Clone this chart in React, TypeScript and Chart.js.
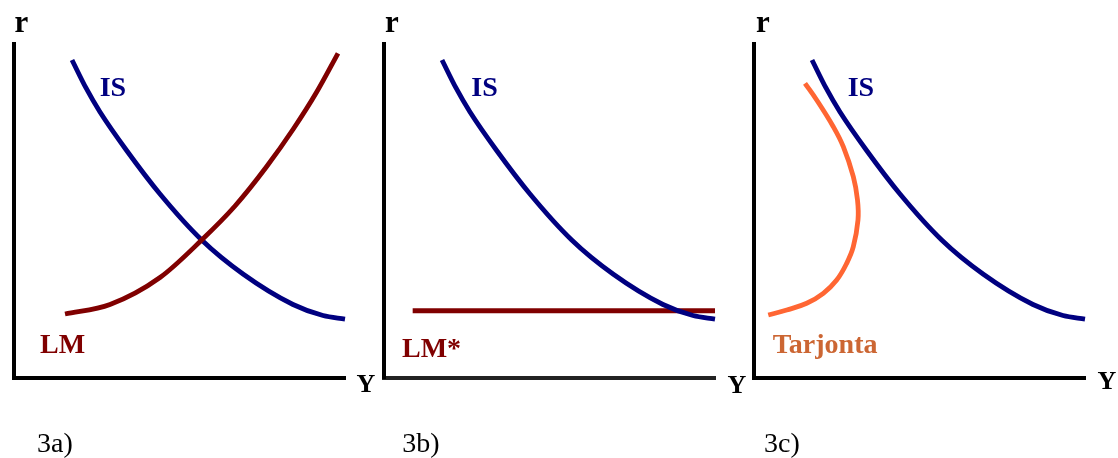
import React, { useEffect, useRef } from "react";
import { Chart, registerables } from "chart.js";

Chart.register(...registerables);

// IS curve (same shape in all three panels), abstract units 0..100
const IS_X = [17.65, 21.87, 26.09, 34.24, 44.19, 56.77, 69.23, 84.31, 93.36, 100];
const IS_R = [95.21, 86.83, 79.64, 67.96, 55.09, 41.32, 31.14, 22.01, 18.71, 17.66];
// LM curve (panel 3a)
const LM_X = [15.54, 29.11, 44.19, 56.77, 66.82, 76.38, 84.4, 91.46, 97.89];
const LM_R = [19.16, 22.01, 30.09, 41.32, 51.5, 63.32, 74.55, 85.63, 97.22];
// LM* horizontal line (panel 3b)
const LMSTAR_X = [8.8, 100];
const LMSTAR_R = [20.1, 20.1];
// Tarjonta (supply) curve (panel 3c)
const SUPPLY_X = [15.54, 19.06, 24.07, 27.09, 30.11, 31.37, 31.52, 30.11, 28.11, 25.1, 21.06, 16.05, 10.02, 4.46];
const SUPPLY_R = [88.23, 83.23, 75.24, 69.25, 60.27, 53.29, 47.31, 39.31, 34.34, 29.34, 25.36, 22.37, 20.36, 18.86];

const PANEL_NAMES = ["3a)", "3b)", "3c)"];

const W = 1118;
const H = 458;

const CURVE_FONT = 'bold 28px "Liberation Serif", "Times New Roman", serif';
const R_FONT = 'bold 31px "Liberation Serif", "Times New Roman", serif';
const Y_FONT = 'bold 26px "Liberation Serif", "Times New Roman", serif';
const NUM_FONT = '28px "Liberation Serif", "Times New Roman", serif';

const pts = (xs: number[], ys: number[]) => xs.map((x, i) => ({ x, y: ys[i] }));

const textPlugin = {
  id: "panelText",
  afterDatasetsDraw(chart: any, _args: any, opts: any) {
    const { ctx, chartArea, scales } = chart;
    ctx.save();
    for (const it of opts.items || []) {
      let px: number, py: number;
      if (it.data) {
        px = scales.x.getPixelForValue(it.x);
        py = scales.y.getPixelForValue(it.y);
      } else {
        px = (it.ax === "right" ? chartArea.right : chartArea.left) + it.dx;
        py = (it.ay === "bottom" ? chartArea.bottom : chartArea.top) + it.dy;
      }
      ctx.font = it.font;
      ctx.fillStyle = it.color;
      ctx.textAlign = "center";
      ctx.textBaseline = "alphabetic";
      ctx.fillText(it.text, px, py);
    }
    ctx.restore();
  },
};

const line = (data: any[], color: string, width: number, mono: boolean) => ({
  data,
  borderColor: color,
  backgroundColor: color,
  borderWidth: width,
  showLine: true,
  pointRadius: 0,
  pointHoverRadius: 0,
  fill: false,
  clip: false,
  borderCapStyle: "butt",
  borderJoinStyle: "round",
  ...(mono ? { cubicInterpolationMode: "monotone" } : { tension: 0.4 }),
});

const axis = (color: string) => ({
  type: "linear",
  min: 0,
  max: 100,
  display: true,
  grid: { display: false, drawTicks: false },
  ticks: { display: false },
  border: { display: true, color, width: 4 },
});

function panelConfig(idx: number) {
  const pads = [
    { left: 13.5, right: W - 345, top: 44, bottom: H - 378 },
    { left: 383.5, right: W - 715, top: 44, bottom: H - 378 },
    { left: 753.5, right: W - 1085, top: 44, bottom: H - 378 },
  ][idx];
  const IS = line(pts(IS_X, IS_R), "#000080", 4.8, true);
  let datasets: any[] = [];
  const items: any[] = [];
  const rDx = [8, 8.5, 9.5][idx];
  const yDx = [21, 22, 22][idx];
  const yDy = [14, 14.7, 11][idx];
  const nDx = [41.5, 37.5, 28.5][idx];
  items.push({ text: "r", ax: "left", ay: "top", dx: rDx, dy: -12, font: R_FONT, color: "#000" });
  items.push({ text: "Y", ax: "right", ay: "bottom", dx: yDx, dy: yDy, font: Y_FONT, color: "#000" });
  items.push({ text: PANEL_NAMES[idx], ax: "left", ay: "bottom", dx: nDx, dy: 74, font: NUM_FONT, color: "#000" });
  if (idx === 0) {
    datasets = [line(pts(LM_X, LM_R), "#800000", 4.8, true), IS];
    items.push({ text: "IS", data: true, x: 30.0, y: 84.4, font: CURVE_FONT, color: "#000080" });
    items.push({ text: "LM", data: true, x: 14.8, y: 7.6, font: CURVE_FONT, color: "#800000" });
  } else if (idx === 1) {
    datasets = [IS, line(pts(LMSTAR_X, LMSTAR_R), "#800000", 5, true)];
    items.push({ text: "IS", data: true, x: 30.5, y: 84.4, font: CURVE_FONT, color: "#000080" });
    items.push({ text: "LM*", data: true, x: 14.5, y: 6.4, font: CURVE_FONT, color: "#800000" });
  } else {
    datasets = [IS, line(pts(SUPPLY_X, SUPPLY_R), "#FF6633", 4.8, false)];
    items.push({ text: "IS", data: true, x: 32.4, y: 84.4, font: CURVE_FONT, color: "#000080" });
    items.push({ text: "Tarjonta", data: true, x: 21.6, y: 7.4, font: CURVE_FONT, color: "#CC6633" });
  }
  return {
    type: "scatter",
    data: { datasets },
    options: {
      responsive: false,
      animation: false,
      events: [],
      layout: { padding: pads },
      scales: { x: axis(idx === 1 ? "#222" : "#000"), y: axis("#000") },
      plugins: {
        legend: { display: false },
        tooltip: { enabled: false },
        panelText: { items },
      },
    },
    plugins: [textPlugin],
  };
}

export default function App() {
  const r0 = useRef<HTMLCanvasElement>(null);
  const r1 = useRef<HTMLCanvasElement>(null);
  const r2 = useRef<HTMLCanvasElement>(null);

  useEffect(() => {
    const refs = [r0, r1, r2];
    const charts = refs.map((r, i) => new Chart(r.current as HTMLCanvasElement, panelConfig(i) as any));
    return () => charts.forEach((c) => c.destroy());
  }, []);

  const cs: React.CSSProperties = { position: "absolute", left: 0, top: 0, width: W, height: H };
  return (
    <div style={{ position: "fixed", left: 0, top: 0, width: W, height: H, background: "#fff" }}>
      <canvas ref={r0} width={W} height={H} style={cs} />
      <canvas ref={r1} width={W} height={H} style={cs} />
      <canvas ref={r2} width={W} height={H} style={cs} />
    </div>
  );
}
